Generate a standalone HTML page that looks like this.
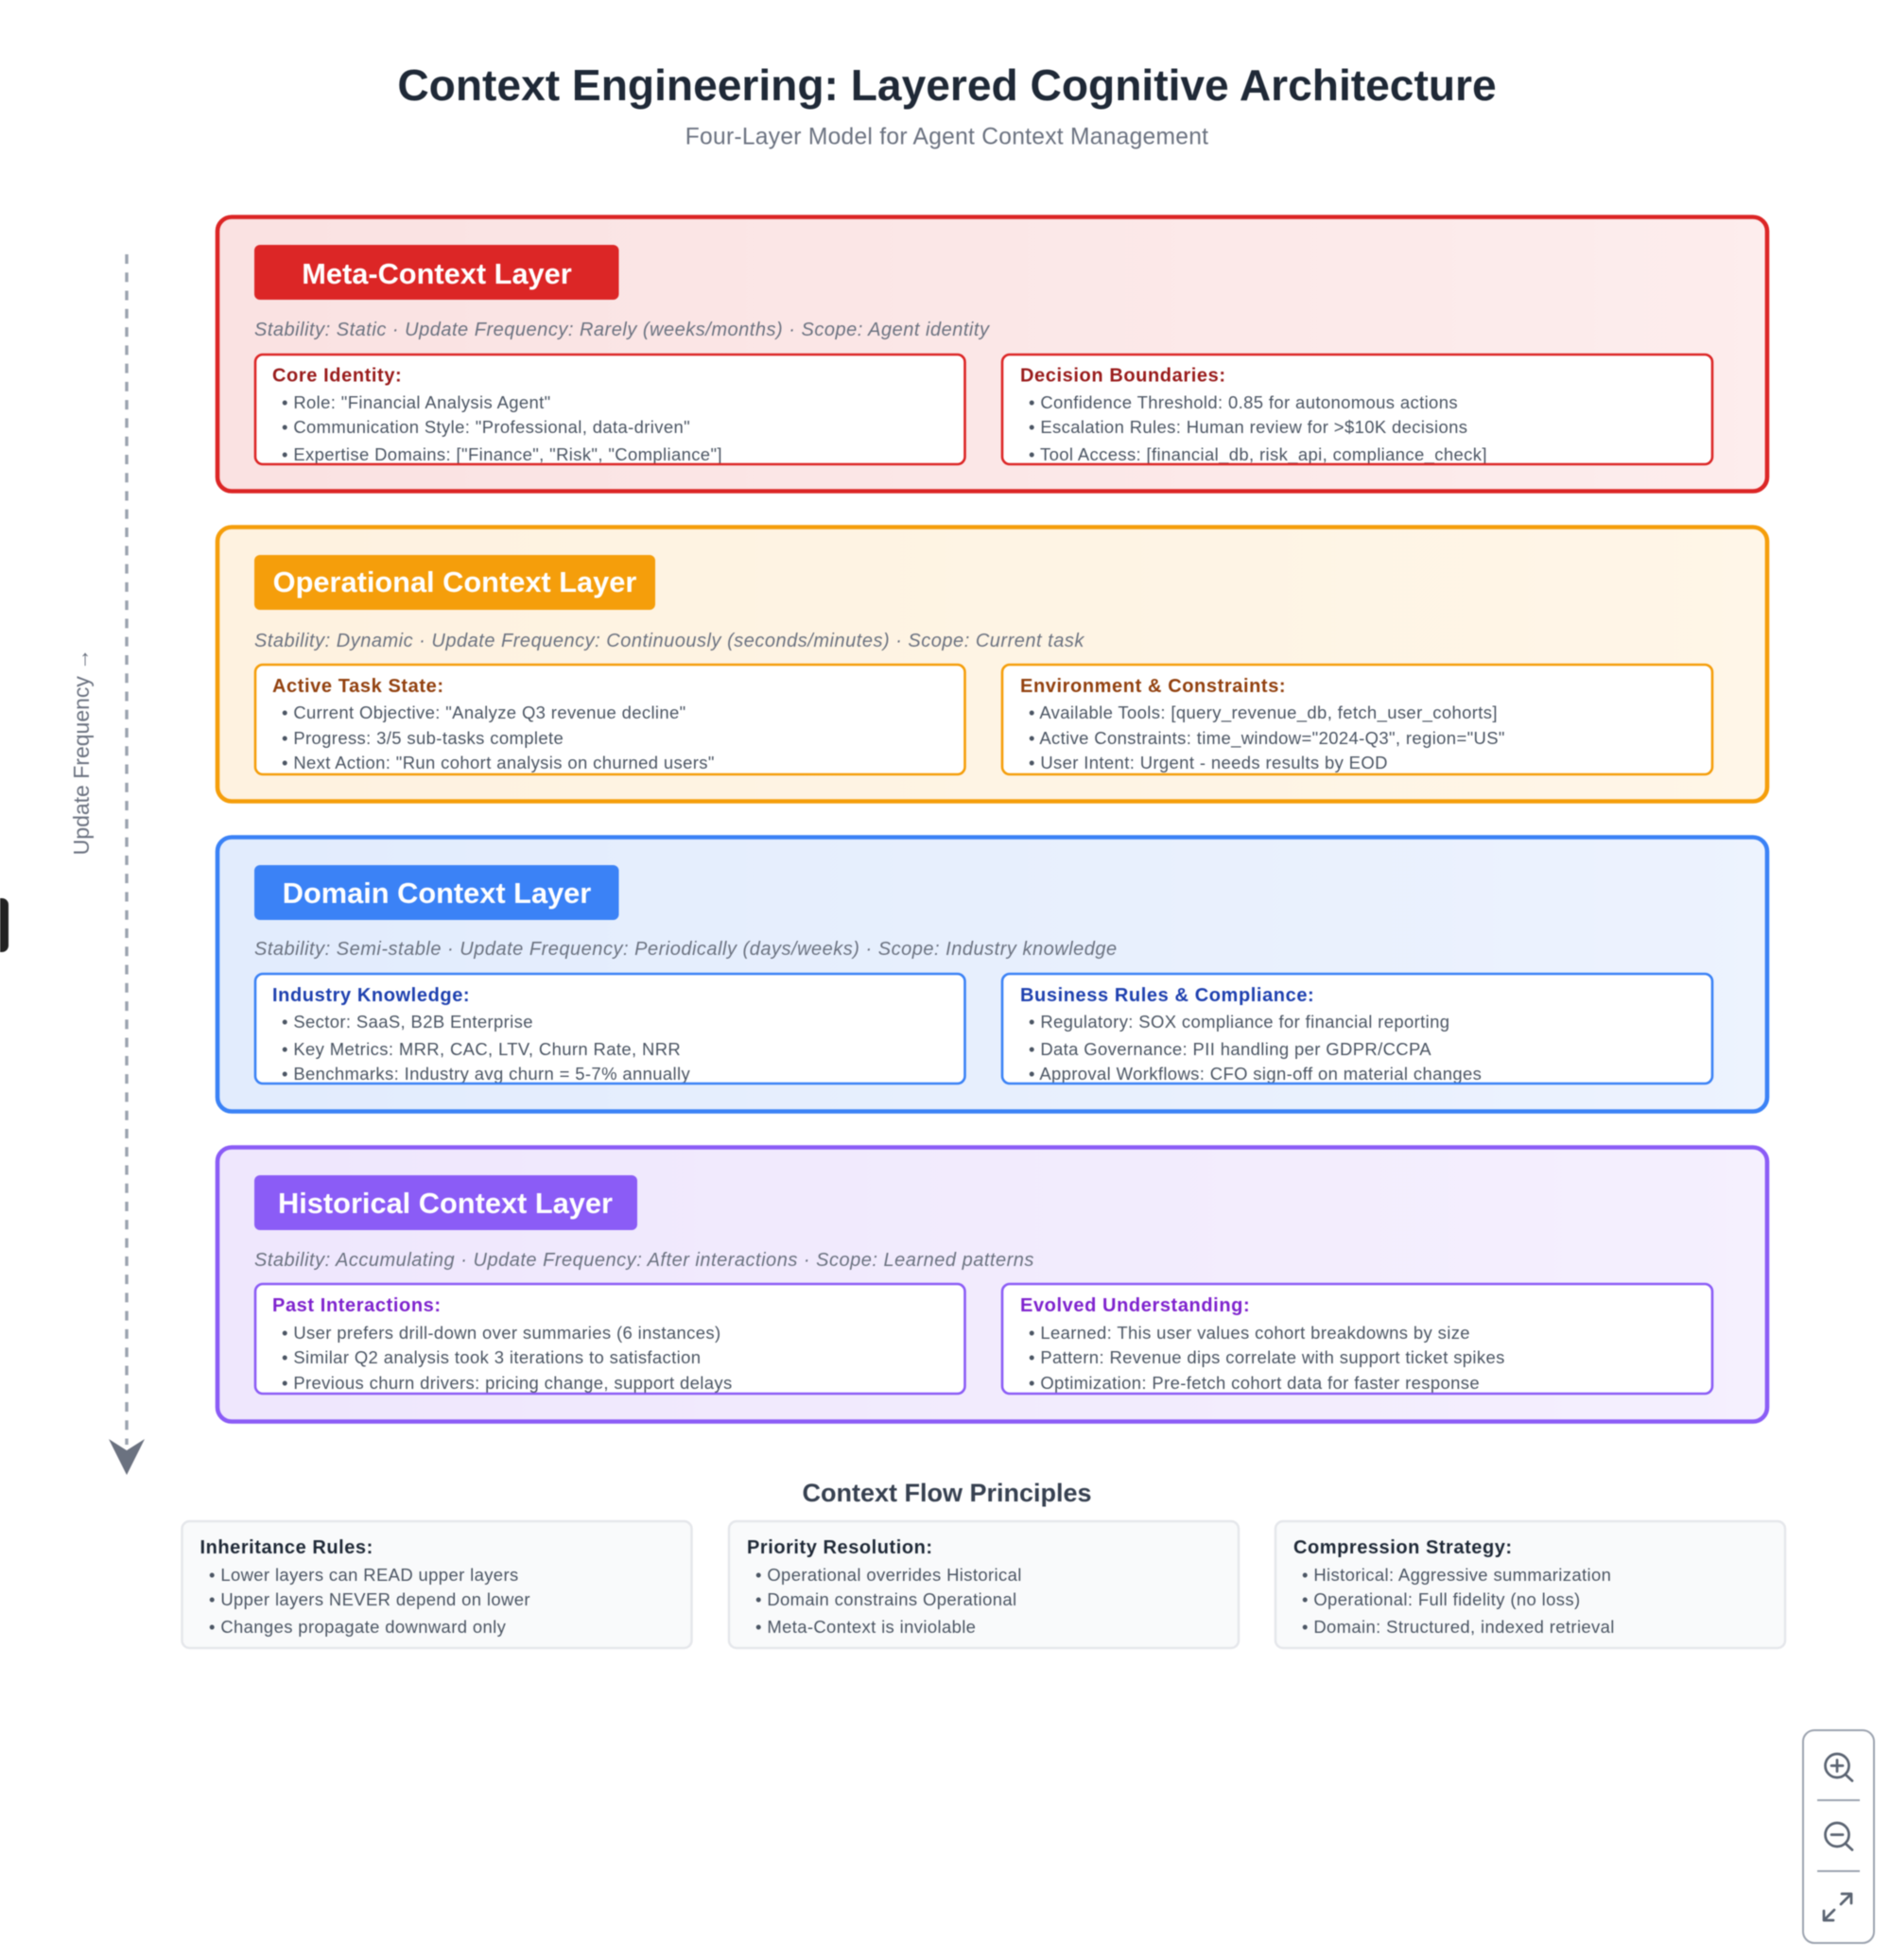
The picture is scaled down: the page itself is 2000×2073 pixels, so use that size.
<!DOCTYPE html>
<html><head><meta charset="utf-8"><title>Context Engineering</title>
<style>
html,body{margin:0;padding:0;background:#fff;width:2000px;height:2073px;overflow:hidden}
svg{display:block;filter:blur(.6px)}
text{font-family:"Liberation Sans",sans-serif;white-space:pre}
.bt{font-size:30.77px;font-weight:700;fill:#fff;text-anchor:middle}
.st{font-size:20px;font-style:italic;fill:#6b7280;letter-spacing:.51px}
.h{font-size:20px;font-weight:700;letter-spacing:.6px}
.l{font-size:18.46px;fill:#4b5563;letter-spacing:.38px}
.bh{font-size:20px;font-weight:700;fill:#1f2937;letter-spacing:.55px}
</style></head><body>
<svg width="2000" height="2073" viewBox="0 0 2000 2073" xmlns="http://www.w3.org/2000/svg">
<defs>
<linearGradient id="g1"><stop offset="0" stop-color="#fae2e2"/><stop offset="1" stop-color="#fdeded"/></linearGradient>
<linearGradient id="g2"><stop offset="0" stop-color="#fef2e0"/><stop offset="1" stop-color="#fff6e8"/></linearGradient>
<linearGradient id="g3"><stop offset="0" stop-color="#e2ecfd"/><stop offset="1" stop-color="#edf3fe"/></linearGradient>
<linearGradient id="g4"><stop offset="0" stop-color="#efe7fd"/><stop offset="1" stop-color="#f5f0fe"/></linearGradient>
<clipPath id="c1"><rect x="0" y="0" width="2000" height="491"/></clipPath>
<clipPath id="c2"><rect x="0" y="0" width="2000" height="819"/></clipPath>
<clipPath id="c3"><rect x="0" y="0" width="2000" height="1146"/></clipPath>
<clipPath id="c4"><rect x="0" y="0" width="2000" height="1474"/></clipPath>
</defs>
<rect width="2000" height="2073" fill="#fff"/>

<text x="1001.5" y="106" text-anchor="middle" font-size="46.15" font-weight="700" fill="#1f2937">Context Engineering: Layered Cognitive Architecture</text>
<text x="1001.5" y="152.5" text-anchor="middle" font-size="24.6" letter-spacing=".27" fill="#6b7280">Four-Layer Model for Agent Context Management</text>

<!-- Arrow -->
<line x1="134" y1="269" x2="134" y2="1528" stroke="#9ca3af" stroke-width="3.4" stroke-dasharray="10 9.27"/>
<polygon points="115,1522 134,1534 153,1522 134,1560" fill="#6b7280"/>
<text transform="translate(94,795) rotate(-90)" text-anchor="middle" font-size="23" fill="#6b7280">Update Frequency →</text>
<path d="M0 950h2a7 7 0 0 1 7 7v43a7 7 0 0 1-7 7H0z" fill="#222"/>

<!-- Meta -->
<rect x="230" y="229.5" width="1639" height="290" rx="15" fill="url(#g1)" stroke="#dc2626" stroke-width="4.6"/>
<rect x="269" y="259" width="385.5" height="58" rx="6" fill="#dc2626"/>
<text class="bt" x="462" y="300">Meta-Context Layer</text>
<text class="st" x="269" y="355">Stability: Static · Update Frequency: Rarely (weeks/months) · Scope: Agent identity</text>
<rect x="270" y="375" width="750.5" height="116" rx="8" fill="#fff"/>
<rect x="1060" y="375" width="751" height="116" rx="8" fill="#fff"/>
<g clip-path="url(#c1)">
<text class="h" fill="#991b1b" x="288" y="403.5">Core Identity:</text>
<text class="l" x="298" y="432">• Role: "Financial Analysis Agent"</text>
<text class="l" x="298" y="458">• Communication Style: "Professional, data-driven"</text>
<text class="l" x="298" y="487">• Expertise Domains: ["Finance", "Risk", "Compliance"]</text>
<text class="h" fill="#991b1b" x="1079" y="403.5">Decision Boundaries:</text>
<text class="l" x="1088" y="432">• Confidence Threshold: 0.85 for autonomous actions</text>
<text class="l" x="1088" y="458">• Escalation Rules: Human review for &gt;$10K decisions</text>
<text class="l" x="1088" y="487">• Tool Access: [financial_db, risk_api, compliance_check]</text>
</g>
<rect x="270" y="375" width="750.5" height="116" rx="8" fill="none" stroke="#dc2626" stroke-width="2.6"/>
<rect x="1060" y="375" width="751" height="116" rx="8" fill="none" stroke="#dc2626" stroke-width="2.6"/>

<!-- Operational -->
<rect x="230" y="557.5" width="1639" height="290" rx="15" fill="url(#g2)" stroke="#f59e0b" stroke-width="4.6"/>
<rect x="269" y="587" width="424" height="58" rx="6" fill="#f59e0b"/>
<text class="bt" x="481" y="626">Operational Context Layer</text>
<text class="st" x="269" y="684">Stability: Dynamic · Update Frequency: Continuously (seconds/minutes) · Scope: Current task</text>
<rect x="270" y="703" width="750.5" height="116" rx="8" fill="#fff"/>
<rect x="1060" y="703" width="751" height="116" rx="8" fill="#fff"/>
<g clip-path="url(#c2)">
<text class="h" fill="#92400e" x="288" y="732">Active Task State:</text>
<text class="l" x="298" y="760">• Current Objective: "Analyze Q3 revenue decline"</text>
<text class="l" x="298" y="787">• Progress: 3/5 sub-tasks complete</text>
<text class="l" x="298" y="813">• Next Action: "Run cohort analysis on churned users"</text>
<text class="h" fill="#92400e" x="1079" y="732">Environment &amp; Constraints:</text>
<text class="l" x="1088" y="760">• Available Tools: [query_revenue_db, fetch_user_cohorts]</text>
<text class="l" x="1088" y="787">• Active Constraints: time_window="2024-Q3", region="US"</text>
<text class="l" x="1088" y="813">• User Intent: Urgent - needs results by EOD</text>
</g>
<rect x="270" y="703" width="750.5" height="116" rx="8" fill="none" stroke="#f59e0b" stroke-width="2.6"/>
<rect x="1060" y="703" width="751" height="116" rx="8" fill="none" stroke="#f59e0b" stroke-width="2.6"/>

<!-- Domain -->
<rect x="230" y="885.5" width="1639" height="290" rx="15" fill="url(#g3)" stroke="#3b82f6" stroke-width="4.6"/>
<rect x="269" y="915" width="385.5" height="58" rx="6" fill="#3b82f6"/>
<text class="bt" x="462" y="955">Domain Context Layer</text>
<text class="st" x="269" y="1010">Stability: Semi-stable · Update Frequency: Periodically (days/weeks) · Scope: Industry knowledge</text>
<rect x="270" y="1030" width="750.5" height="116" rx="8" fill="#fff"/>
<rect x="1060" y="1030" width="751" height="116" rx="8" fill="#fff"/>
<g clip-path="url(#c3)">
<text class="h" fill="#1e40af" x="288" y="1059">Industry Knowledge:</text>
<text class="l" x="298" y="1087">• Sector: SaaS, B2B Enterprise</text>
<text class="l" x="298" y="1116">• Key Metrics: MRR, CAC, LTV, Churn Rate, NRR</text>
<text class="l" x="298" y="1142">• Benchmarks: Industry avg churn = 5-7% annually</text>
<text class="h" fill="#1e40af" x="1079" y="1059">Business Rules &amp; Compliance:</text>
<text class="l" x="1088" y="1087">• Regulatory: SOX compliance for financial reporting</text>
<text class="l" x="1088" y="1116">• Data Governance: PII handling per GDPR/CCPA</text>
<text class="l" x="1088" y="1142">• Approval Workflows: CFO sign-off on material changes</text>
</g>
<rect x="270" y="1030" width="750.5" height="116" rx="8" fill="none" stroke="#3b82f6" stroke-width="2.6"/>
<rect x="1060" y="1030" width="751" height="116" rx="8" fill="none" stroke="#3b82f6" stroke-width="2.6"/>

<!-- Historical -->
<rect x="230" y="1213.5" width="1639" height="290" rx="15" fill="url(#g4)" stroke="#8b5cf6" stroke-width="4.6"/>
<rect x="269" y="1243" width="405" height="58" rx="6" fill="#8b5cf6"/>
<text class="bt" x="471" y="1283">Historical Context Layer</text>
<text class="st" x="269" y="1339">Stability: Accumulating · Update Frequency: After interactions · Scope: Learned patterns</text>
<rect x="270" y="1358" width="750.5" height="116" rx="8" fill="#fff"/>
<rect x="1060" y="1358" width="751" height="116" rx="8" fill="#fff"/>
<g clip-path="url(#c4)">
<text class="h" fill="#7e22ce" x="288" y="1387">Past Interactions:</text>
<text class="l" x="298" y="1416">• User prefers drill-down over summaries (6 instances)</text>
<text class="l" x="298" y="1442">• Similar Q2 analysis took 3 iterations to satisfaction</text>
<text class="l" x="298" y="1469">• Previous churn drivers: pricing change, support delays</text>
<text class="h" fill="#7e22ce" x="1079" y="1387">Evolved Understanding:</text>
<text class="l" x="1088" y="1416">• Learned: This user values cohort breakdowns by size</text>
<text class="l" x="1088" y="1442">• Pattern: Revenue dips correlate with support ticket spikes</text>
<text class="l" x="1088" y="1469">• Optimization: Pre-fetch cohort data for faster response</text>
</g>
<rect x="270" y="1358" width="750.5" height="116" rx="8" fill="none" stroke="#8b5cf6" stroke-width="2.6"/>
<rect x="1060" y="1358" width="751" height="116" rx="8" fill="none" stroke="#8b5cf6" stroke-width="2.6"/>

<!-- Bottom -->
<text x="1001.5" y="1588" text-anchor="middle" font-size="27" font-weight="700" fill="#374151">Context Flow Principles</text>
<rect x="192.5" y="1609" width="539" height="134" rx="8" fill="#f9fafb" stroke="#e5e7eb" stroke-width="2.5"/>
<rect x="771" y="1609" width="539" height="134" rx="8" fill="#f9fafb" stroke="#e5e7eb" stroke-width="2.5"/>
<rect x="1349" y="1609" width="539" height="134" rx="8" fill="#f9fafb" stroke="#e5e7eb" stroke-width="2.5"/>
<text class="bh" x="211.5" y="1643">Inheritance Rules:</text>
<text class="l" x="221" y="1672">• Lower layers can READ upper layers</text>
<text class="l" x="221" y="1698">• Upper layers NEVER depend on lower</text>
<text class="l" x="221" y="1727">• Changes propagate downward only</text>
<text class="bh" x="790" y="1643">Priority Resolution:</text>
<text class="l" x="799" y="1672">• Operational overrides Historical</text>
<text class="l" x="799" y="1698">• Domain constrains Operational</text>
<text class="l" x="799" y="1727">• Meta-Context is inviolable</text>
<text class="bh" x="1368" y="1643">Compression Strategy:</text>
<text class="l" x="1377" y="1672">• Historical: Aggressive summarization</text>
<text class="l" x="1377" y="1698">• Operational: Full fidelity (no loss)</text>
<text class="l" x="1377" y="1727">• Domain: Structured, indexed retrieval</text>

<!-- Zoom panel -->
<rect x="1907" y="1830" width="75" height="225" rx="12" fill="#fff" stroke="#9ca3af" stroke-width="2"/>
<line x1="1922" y1="1904" x2="1967" y2="1904" stroke="#9ca3af" stroke-width="2"/>
<line x1="1922" y1="1979" x2="1967" y2="1979" stroke="#9ca3af" stroke-width="2"/>
<g fill="none" stroke="#5b6472" stroke-width="2.7" stroke-linecap="round" stroke-linejoin="round">
<circle cx="1943" cy="1867.5" r="12.5"/><path d="M1952 1877l7 6.5M1943 1861.5v12M1937 1867.5h12"/>
<circle cx="1943" cy="1940.5" r="12.5"/><path d="M1952 1950l7 6.5M1937 1940.5h12"/>
<path d="M1929 2031l11-11M1929 2021v10h10M1958 2003l-11 11M1948 2003h10v10"/>
</g>
</svg>
</body></html>
